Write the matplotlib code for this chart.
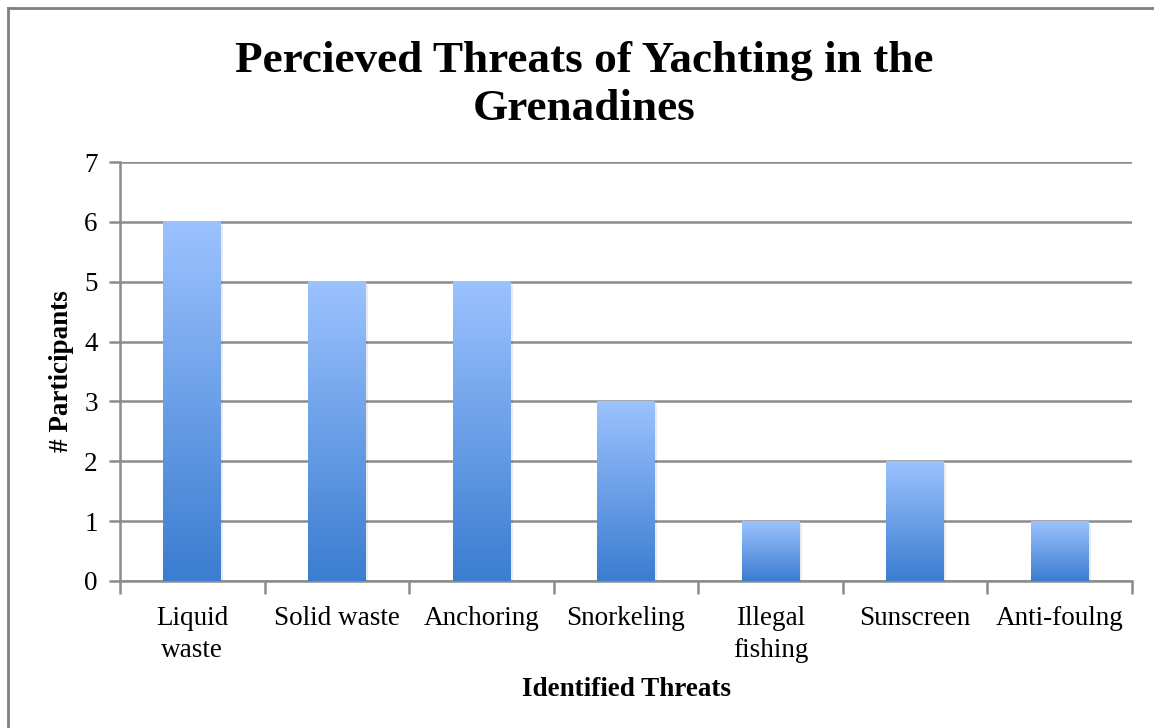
import matplotlib.pyplot as plt
import numpy as np
from matplotlib.colors import LinearSegmentedColormap
from matplotlib.lines import Line2D

categories = ['Liquid\nwaste', 'Solid waste', 'Anchoring', 'Snorkeling',
              'Illegal\nfishing', 'Sunscreen', 'Anti-foulng']
participants = [6, 5, 5, 3, 1, 2, 1]

plt.rcParams['font.family'] = ['Liberation Serif', 'DejaVu Serif']

fig = plt.figure(figsize=(11.54, 7.28), dpi=100)
ax = fig.add_axes([120 / 1154, 1 - 581 / 728, (1132 - 120) / 1154, (581 - 162) / 728])

x = np.arange(len(categories))
bars = ax.bar(x, participants, width=0.4, color='none', zorder=3)

# vertical gradient, light on top, darker at the base of each bar
cmap = LinearSegmentedColormap.from_list('bluegrad', ['#3b7dd0', '#9cc2ff'])
grad = np.linspace(0, 1, 256).reshape(-1, 1)
for bar in bars:
    x0, w, h = bar.get_x(), bar.get_width(), bar.get_height()
    # soft shadow
    ax.add_patch(plt.Rectangle((x0 + 0.015, -0.05), w, h, color='#000000',
                               alpha=0.08, lw=0, zorder=2))
    ax.imshow(grad, extent=[x0, x0 + w, 0, h], origin='lower',
              cmap=cmap, aspect='auto', zorder=3)

ax.set_xlim(-0.5, len(categories) - 0.5)
ax.set_ylim(0, 7)
ax.set_yticks(range(0, 8))
ax.yaxis.grid(True, color='#8c8c8c', linewidth=1.8, zorder=0)
ax.set_axisbelow(True)

ax.set_xticks(np.arange(-0.5, len(categories)), minor=False)
ax.set_xticklabels([])
ax.set_xticks(x, minor=True)
ax.set_xticklabels(categories, minor=True, fontsize=19.5, linespacing=1.36)
ax.tick_params(axis='x', which='minor', length=0, pad=18)
ax.tick_params(axis='x', which='major', length=9, width=1.8, color='#8c8c8c', direction='out')
ax.tick_params(axis='y', length=8, width=1.8, color='#8c8c8c', labelsize=19.5, pad=8)

for side in ['top', 'right']:
    ax.spines[side].set_visible(False)
for side in ['left', 'bottom']:
    ax.spines[side].set_color('#8c8c8c')
    ax.spines[side].set_linewidth(1.8)

ax.set_xlabel('Identified Threats', fontsize=19.5, fontweight='bold', labelpad=10)
ax.set_ylabel('# Participants', fontsize=19.5, fontweight='bold', labelpad=7)

fig.text(584 / 1154, 1 - 85 / 728, 'Percieved Threats of Yachting in the\nGrenadines',
         ha='center', va='center', fontsize=32.6, fontweight='bold', linespacing=1.24)

# outer frame (top and left edges visible)
fig.add_artist(Line2D([8 / 1154, 8 / 1154], [0, 1 - 8 / 728], color='#808080', lw=2))
fig.add_artist(Line2D([8 / 1154, 1], [1 - 8 / 728, 1 - 8 / 728], color='#808080', lw=2))

fig.savefig('out.png', dpi=100)
